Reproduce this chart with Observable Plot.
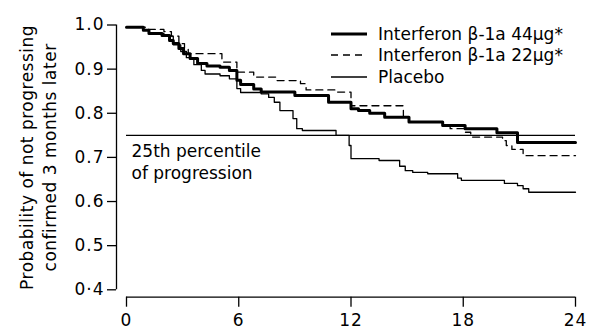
<!DOCTYPE html>
<html>
<head>
<meta charset="utf-8">
<script src="https://cdn.jsdelivr.net/npm/d3@7"></script>
<script src="https://cdn.jsdelivr.net/npm/@observablehq/plot@0.6"></script>
<style>
  html, body { margin: 0; padding: 0; background: #fff; }
  #wrap { position: relative; width: 591px; height: 329px; font-family: "DejaVu Sans", sans-serif; }
  .legend { position: absolute; left: 331px; top: 23px; font-size: 17px; color: #000; }
  .legend .row { display: flex; align-items: center; height: 21.5px; white-space: nowrap; }
  .legend svg { width: 36px; height: 10px; margin-right: 11px; }
  #wrap svg [aria-label$="tick label"] text { letter-spacing: 1px; }
  #wrap svg .ytitle text { letter-spacing: 0.5px; }
</style>
</head>
<body>
<div id="wrap"></div>
<script>
// ---- data ----
const seriesNames = ["Interferon β-1a 44μg*", "Interferon β-1a 22μg*", "Placebo"];

const months44 = [0, 0.9, 1.2, 1.9, 2.3, 2.5, 2.8, 3.05, 3.4, 3.8, 4.3, 5.0, 5.5, 5.9, 6.1, 6.8, 7.2, 9.0, 10.8, 12.0, 12.4, 13.0, 13.8, 15.1, 16.9, 18.1, 19.8, 20.9, 24];
const surv44   = [0.995, 0.988, 0.981, 0.976, 0.965, 0.958, 0.947, 0.935, 0.924, 0.913, 0.907, 0.904, 0.897, 0.875, 0.865, 0.855, 0.848, 0.840, 0.825, 0.810, 0.806, 0.800, 0.791, 0.780, 0.772, 0.765, 0.756, 0.734, 0.734];

const months22 = [0, 1.0, 2.0, 2.4, 2.8, 3.1, 3.3, 5.1, 5.9, 6.8, 8.0, 9.3, 9.6, 11.2, 12.0, 14.8, 15.1, 16.9, 17.3, 18.1, 18.4, 20.1, 20.3, 20.6, 21.2, 24];
const surv22   = [0.995, 0.990, 0.985, 0.975, 0.958, 0.945, 0.935, 0.916, 0.893, 0.882, 0.874, 0.867, 0.853, 0.848, 0.817, 0.791, 0.780, 0.772, 0.765, 0.757, 0.746, 0.738, 0.727, 0.718, 0.704, 0.704];

const monthsPl = [0, 0.9, 1.2, 2.0, 2.5, 2.9, 3.2, 3.6, 4.0, 4.2, 5.0, 5.5, 5.9, 6.1, 7.2, 7.6, 7.9, 8.2, 8.9, 9.1, 9.4, 11.2, 11.9, 12.0, 13.5, 14.6, 14.9, 15.3, 16.1, 17.7, 17.9, 20.2, 20.9, 21.2, 21.5, 24];
const survPl   = [0.995, 0.988, 0.981, 0.975, 0.955, 0.940, 0.926, 0.910, 0.897, 0.889, 0.885, 0.878, 0.856, 0.847, 0.844, 0.836, 0.825, 0.806, 0.788, 0.765, 0.761, 0.750, 0.727, 0.697, 0.693, 0.680, 0.670, 0.666, 0.663, 0.653, 0.648, 0.641, 0.636, 0.629, 0.621, 0.621];

const percentileValue = 0.75;
const percentileLabel = "25th percentile\nof progression";

const xTicks = [0, 6, 12, 18, 24];
const yTicks = [0.4, 0.5, 0.6, 0.7, 0.8, 0.9, 1.0];
const yTickLabels = ["0·4", "0.5", "0.6", "0.7", "0.8", "0.9", "1.0"];
const yTitle = "Probability of not progressing\nconfirmed 3 months later";

// ---- build table ----
const rows = [];
[[months44, surv44], [months22, surv22], [monthsPl, survPl]].forEach(([m, s], k) => {
  m.forEach((t, i) => rows.push({series: seriesNames[k], month: t, p: s[i]}));
});
const styles = [
  {strokeWidth: 3, dash: null},
  {strokeWidth: 1.3, dash: "7,5"},
  {strokeWidth: 1.3, dash: null}
];
const yLabelMap = new Map(yTicks.map((v, i) => [v, yTickLabels[i]]));

const AX_OFF = 10; // offset of detached axes

const lineMarks = seriesNames.map((name, k) =>
  Plot.line(rows.filter(r => r.series === name), {
    x: "month", y: "p", curve: "step-after",
    stroke: "#000", strokeWidth: styles[k].strokeWidth,
    strokeDasharray: styles[k].dash || undefined
  })
);

const chart = Plot.plot({
  width: 591,
  height: 329,
  marginLeft: 126,
  marginRight: 16,
  marginTop: 24.5,
  marginBottom: 39.7,
  style: {fontFamily: "DejaVu Sans, sans-serif", fontSize: "17px", color: "#000", background: "#fff", overflow: "visible"},
  x: {domain: [0, 24], axis: null, label: null},
  y: {domain: [0.4, 1.0], axis: null, label: null},
  marks: [
    // y axis (detached, left)
    Plot.ruleX([0], {y1: 0.4, y2: 1.0, dx: -AX_OFF, stroke: "#000", strokeWidth: 1.3}),
    Plot.axisY(yTicks, {anchor: "left", label: null, dx: -AX_OFF, tickSize: 9, tickPadding: 3, tickFormat: d => yLabelMap.get(d), stroke: "#000", strokeWidth: 1.3, fill: "#000", fontSize: 17}),
    // x axis (detached, bottom)
    Plot.ruleY([0.4], {x1: 0, x2: 24, dy: 7.4, stroke: "#000", strokeWidth: 1.3}),
    Plot.axisX(xTicks, {anchor: "bottom", label: null, dy: 7.4, tickSize: 10, tickPadding: 7, stroke: "#000", strokeWidth: 1.3, fill: "#000", fontSize: 17}),
    // y title
    Plot.text([yTitle], {frameAnchor: "left", rotate: -90, dx: -89.5, dy: 0, textAnchor: "middle", lineAnchor: "middle", lineHeight: 1.35, fontSize: 17, fill: "#000", className: "ytitle"}),
    // 25th percentile line and label
    Plot.ruleY([percentileValue], {x1: 0, x2: 24, stroke: "#000", strokeWidth: 1.2}),
    Plot.text([percentileLabel], {x: 0, y: percentileValue, dx: 5, dy: 6, textAnchor: "start", lineAnchor: "top", lineHeight: 1.3, fontSize: 17, fill: "#000"}),
    ...lineMarks
  ]
});

const wrap = document.getElementById("wrap");
wrap.appendChild(chart);

// legend
const legend = document.createElement("div");
legend.className = "legend";
seriesNames.forEach((name, k) => {
  const row = document.createElement("div");
  row.className = "row";
  const s = styles[k];
  row.innerHTML = `<svg viewBox="0 0 36 10"><line x1="0" x2="36" y1="5" y2="5" stroke="#000" stroke-width="${s.strokeWidth}" ${s.dash ? `stroke-dasharray="${s.dash}"` : ""}/></svg><span>${name}</span>`;
  legend.appendChild(row);
});
wrap.appendChild(legend);
</script>
</body>
</html>
